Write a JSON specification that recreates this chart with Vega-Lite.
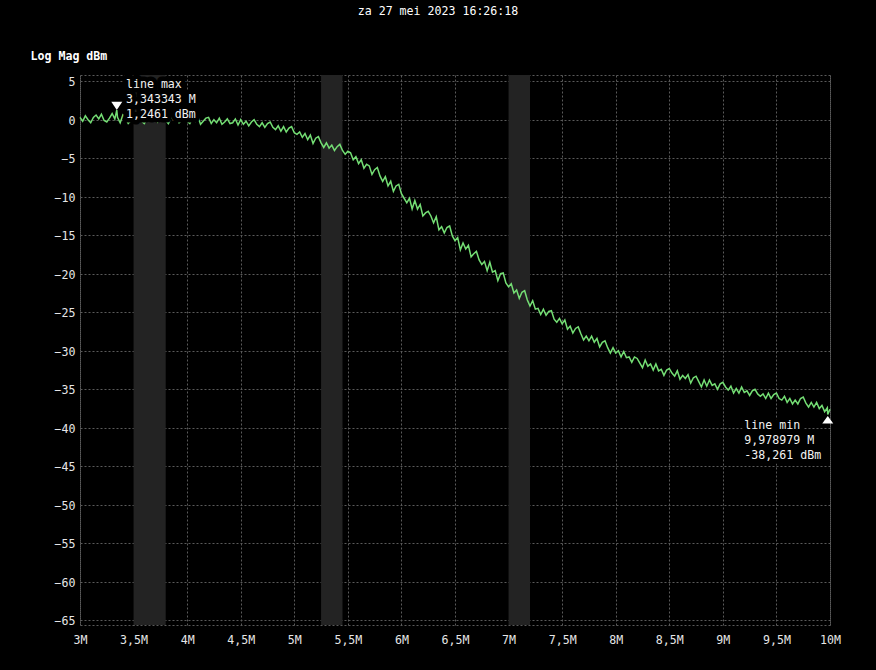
{
  "$schema": "https://vega.github.io/schema/vega-lite/v6.json",
  "width": 750,
  "height": 550,
  "autosize": "none",
  "padding": {"left": 80, "top": 75, "right": 46, "bottom": 45},
  "background": "#000000",
  "title": {
    "text": "za 27 mei 2023 16:26:18",
    "anchor": "middle",
    "frame": "group",
    "offset": 33,
    "dx": -17,
    "color": "#ffffff",
    "font": "DejaVu Sans Mono",
    "fontSize": 11.6,
    "fontWeight": "normal"
  },
  "config": {
    "view": {"stroke": "#5a5a5a", "strokeDash": [2, 2], "strokeWidth": 1},
    "axis": {
      "domain": false,
      "ticks": false,
      "gridColor": "#5a5a5a",
      "gridDash": [2, 2],
      "gridWidth": 1,
      "labelColor": "#e6e6e6",
      "labelFont": "DejaVu Sans Mono",
      "labelFontSize": 11.6,
      "titleColor": "#ffffff",
      "titleFont": "DejaVu Sans Mono",
      "titleFontSize": 11.6
    }
  },
  "datasets": {
    "trace": [
      {"f": 3.000, "m": 0.3}, {"f": 3.025, "m": -0.2}, {"f": 3.050, "m": 0.5}, {"f": 3.075, "m": 0.0},
      {"f": 3.100, "m": -0.4}, {"f": 3.125, "m": 0.3}, {"f": 3.150, "m": 0.6}, {"f": 3.175, "m": 0.1},
      {"f": 3.200, "m": 0.7}, {"f": 3.225, "m": -0.1}, {"f": 3.250, "m": -0.3}, {"f": 3.275, "m": 0.2},
      {"f": 3.300, "m": 0.8}, {"f": 3.325, "m": 0.1}, {"f": 3.343343, "m": 1.2461}, {"f": 3.350, "m": 0.3},
      {"f": 3.375, "m": -0.4}, {"f": 3.400, "m": 0.6}, {"f": 3.425, "m": 0.2}, {"f": 3.450, "m": -0.5},
      {"f": 3.475, "m": -0.1}, {"f": 3.500, "m": 0.5}, {"f": 3.525, "m": 0.0}, {"f": 3.550, "m": 0.6},
      {"f": 3.575, "m": -0.2}, {"f": 3.600, "m": -0.5}, {"f": 3.625, "m": 0.1}, {"f": 3.650, "m": 0.4},
      {"f": 3.675, "m": -0.1}, {"f": 3.700, "m": 0.5}, {"f": 3.725, "m": -0.3}, {"f": 3.750, "m": 0.2},
      {"f": 3.775, "m": 0.5}, {"f": 3.800, "m": -0.1}, {"f": 3.825, "m": -0.5}, {"f": 3.850, "m": 0.3},
      {"f": 3.875, "m": 0.0}, {"f": 3.900, "m": 0.5}, {"f": 3.925, "m": -0.4}, {"f": 3.950, "m": -0.1},
      {"f": 3.975, "m": 0.3}, {"f": 4.000, "m": -0.2}, {"f": 4.025, "m": -0.5}, {"f": 4.050, "m": 0.2},
      {"f": 4.075, "m": -0.2}, {"f": 4.100, "m": 0.4}, {"f": 4.125, "m": -0.6}, {"f": 4.150, "m": -0.2},
      {"f": 4.175, "m": 0.2}, {"f": 4.200, "m": 0.3}, {"f": 4.225, "m": -0.5}, {"f": 4.250, "m": 0.0},
      {"f": 4.275, "m": -0.4}, {"f": 4.300, "m": 0.2}, {"f": 4.325, "m": -0.6}, {"f": 4.350, "m": -0.3},
      {"f": 4.375, "m": 0.1}, {"f": 4.400, "m": -0.5}, {"f": 4.425, "m": -0.4}, {"f": 4.450, "m": 0.1},
      {"f": 4.475, "m": -0.7}, {"f": 4.500, "m": 0.0}, {"f": 4.525, "m": -0.6}, {"f": 4.550, "m": -0.2},
      {"f": 4.575, "m": -0.8}, {"f": 4.600, "m": -0.3}, {"f": 4.625, "m": 0.0}, {"f": 4.650, "m": -0.6},
      {"f": 4.675, "m": -0.9}, {"f": 4.700, "m": -0.4}, {"f": 4.725, "m": -1.0}, {"f": 4.750, "m": -0.5},
      {"f": 4.775, "m": -0.3}, {"f": 4.800, "m": -1.0}, {"f": 4.825, "m": -1.3}, {"f": 4.850, "m": -0.8},
      {"f": 4.875, "m": -1.5}, {"f": 4.900, "m": -0.9}, {"f": 4.925, "m": -1.6}, {"f": 4.950, "m": -1.1},
      {"f": 4.975, "m": -0.9}, {"f": 5.000, "m": -1.7}, {"f": 5.025, "m": -1.9}, {"f": 5.050, "m": -1.6},
      {"f": 5.075, "m": -2.3}, {"f": 5.100, "m": -1.8}, {"f": 5.125, "m": -2.6}, {"f": 5.150, "m": -2.0},
      {"f": 5.175, "m": -3.1}, {"f": 5.200, "m": -2.4}, {"f": 5.225, "m": -2.2}, {"f": 5.250, "m": -3.0},
      {"f": 5.275, "m": -3.6}, {"f": 5.300, "m": -3.0}, {"f": 5.325, "m": -3.7}, {"f": 5.350, "m": -3.3},
      {"f": 5.375, "m": -4.0}, {"f": 5.400, "m": -3.5}, {"f": 5.425, "m": -3.2}, {"f": 5.450, "m": -4.0},
      {"f": 5.475, "m": -4.5}, {"f": 5.500, "m": -4.1}, {"f": 5.525, "m": -4.3}, {"f": 5.550, "m": -5.2},
      {"f": 5.575, "m": -4.8}, {"f": 5.600, "m": -5.7}, {"f": 5.625, "m": -5.2}, {"f": 5.650, "m": -6.3},
      {"f": 5.675, "m": -5.8}, {"f": 5.700, "m": -6.0}, {"f": 5.725, "m": -7.1}, {"f": 5.750, "m": -6.5},
      {"f": 5.775, "m": -6.2}, {"f": 5.800, "m": -7.3}, {"f": 5.825, "m": -8.0}, {"f": 5.850, "m": -7.4},
      {"f": 5.875, "m": -8.6}, {"f": 5.900, "m": -8.0}, {"f": 5.925, "m": -9.3}, {"f": 5.950, "m": -8.6},
      {"f": 5.975, "m": -8.4}, {"f": 6.000, "m": -9.6}, {"f": 6.025, "m": -10.2}, {"f": 6.050, "m": -10.8},
      {"f": 6.075, "m": -10.2}, {"f": 6.100, "m": -11.6}, {"f": 6.125, "m": -10.5}, {"f": 6.150, "m": -11.6},
      {"f": 6.175, "m": -11.0}, {"f": 6.200, "m": -12.5}, {"f": 6.225, "m": -12.1}, {"f": 6.250, "m": -11.9},
      {"f": 6.275, "m": -12.5}, {"f": 6.300, "m": -13.4}, {"f": 6.325, "m": -12.6}, {"f": 6.350, "m": -14.3},
      {"f": 6.375, "m": -13.9}, {"f": 6.400, "m": -14.7}, {"f": 6.425, "m": -14.0}, {"f": 6.450, "m": -13.8},
      {"f": 6.475, "m": -15.1}, {"f": 6.500, "m": -15.7}, {"f": 6.525, "m": -15.3}, {"f": 6.550, "m": -16.9},
      {"f": 6.575, "m": -16.0}, {"f": 6.600, "m": -16.8}, {"f": 6.625, "m": -16.3}, {"f": 6.650, "m": -17.8},
      {"f": 6.675, "m": -17.4}, {"f": 6.700, "m": -17.1}, {"f": 6.725, "m": -18.2}, {"f": 6.750, "m": -18.8},
      {"f": 6.775, "m": -18.4}, {"f": 6.800, "m": -19.6}, {"f": 6.825, "m": -18.5}, {"f": 6.850, "m": -19.8},
      {"f": 6.875, "m": -19.6}, {"f": 6.900, "m": -20.9}, {"f": 6.925, "m": -20.0}, {"f": 6.950, "m": -19.9},
      {"f": 6.975, "m": -21.2}, {"f": 7.000, "m": -21.7}, {"f": 7.025, "m": -21.3}, {"f": 7.050, "m": -22.5},
      {"f": 7.075, "m": -22.1}, {"f": 7.100, "m": -23.2}, {"f": 7.125, "m": -22.4}, {"f": 7.150, "m": -22.2},
      {"f": 7.175, "m": -23.4}, {"f": 7.200, "m": -24.2}, {"f": 7.225, "m": -23.5}, {"f": 7.250, "m": -24.6},
      {"f": 7.275, "m": -24.5}, {"f": 7.300, "m": -25.3}, {"f": 7.325, "m": -24.6}, {"f": 7.350, "m": -25.4},
      {"f": 7.375, "m": -24.9}, {"f": 7.400, "m": -24.8}, {"f": 7.425, "m": -25.9}, {"f": 7.450, "m": -26.3},
      {"f": 7.475, "m": -25.8}, {"f": 7.500, "m": -26.5}, {"f": 7.525, "m": -26.0}, {"f": 7.550, "m": -27.2},
      {"f": 7.575, "m": -26.8}, {"f": 7.600, "m": -27.7}, {"f": 7.625, "m": -27.1}, {"f": 7.650, "m": -26.9},
      {"f": 7.675, "m": -27.8}, {"f": 7.700, "m": -28.6}, {"f": 7.725, "m": -28.1}, {"f": 7.750, "m": -28.7},
      {"f": 7.775, "m": -28.1}, {"f": 7.800, "m": -28.9}, {"f": 7.825, "m": -28.4}, {"f": 7.850, "m": -29.5},
      {"f": 7.875, "m": -28.9}, {"f": 7.900, "m": -28.7}, {"f": 7.925, "m": -29.6}, {"f": 7.950, "m": -30.3},
      {"f": 7.975, "m": -29.6}, {"f": 8.000, "m": -30.3}, {"f": 8.025, "m": -30.0}, {"f": 8.050, "m": -30.8},
      {"f": 8.075, "m": -30.1}, {"f": 8.100, "m": -30.9}, {"f": 8.125, "m": -30.8}, {"f": 8.150, "m": -31.5},
      {"f": 8.175, "m": -30.8}, {"f": 8.200, "m": -31.0}, {"f": 8.225, "m": -31.6}, {"f": 8.250, "m": -32.2},
      {"f": 8.275, "m": -31.2}, {"f": 8.300, "m": -32.0}, {"f": 8.325, "m": -31.7}, {"f": 8.350, "m": -32.5},
      {"f": 8.375, "m": -31.7}, {"f": 8.400, "m": -32.6}, {"f": 8.425, "m": -32.4}, {"f": 8.450, "m": -33.2},
      {"f": 8.475, "m": -32.5}, {"f": 8.500, "m": -32.3}, {"f": 8.525, "m": -32.9}, {"f": 8.550, "m": -33.3},
      {"f": 8.575, "m": -32.6}, {"f": 8.600, "m": -33.7}, {"f": 8.625, "m": -33.2}, {"f": 8.650, "m": -33.6},
      {"f": 8.675, "m": -33.1}, {"f": 8.700, "m": -34.2}, {"f": 8.725, "m": -33.5}, {"f": 8.750, "m": -33.3},
      {"f": 8.775, "m": -34.0}, {"f": 8.800, "m": -34.7}, {"f": 8.825, "m": -33.8}, {"f": 8.850, "m": -34.6},
      {"f": 8.875, "m": -33.8}, {"f": 8.900, "m": -34.5}, {"f": 8.925, "m": -34.3}, {"f": 8.950, "m": -35.0},
      {"f": 8.975, "m": -34.3}, {"f": 9.000, "m": -34.1}, {"f": 9.025, "m": -34.7}, {"f": 9.050, "m": -35.1},
      {"f": 9.075, "m": -34.6}, {"f": 9.100, "m": -35.5}, {"f": 9.125, "m": -34.9}, {"f": 9.150, "m": -35.5},
      {"f": 9.175, "m": -34.7}, {"f": 9.200, "m": -35.4}, {"f": 9.225, "m": -35.2}, {"f": 9.250, "m": -35.8},
      {"f": 9.275, "m": -35.2}, {"f": 9.300, "m": -35.0}, {"f": 9.325, "m": -35.6}, {"f": 9.350, "m": -35.9},
      {"f": 9.375, "m": -35.6}, {"f": 9.400, "m": -36.2}, {"f": 9.425, "m": -35.5}, {"f": 9.450, "m": -36.2},
      {"f": 9.475, "m": -35.7}, {"f": 9.500, "m": -35.5}, {"f": 9.525, "m": -36.2}, {"f": 9.550, "m": -36.4},
      {"f": 9.575, "m": -35.9}, {"f": 9.600, "m": -36.7}, {"f": 9.625, "m": -36.2}, {"f": 9.650, "m": -36.9},
      {"f": 9.675, "m": -36.4}, {"f": 9.700, "m": -36.9}, {"f": 9.725, "m": -36.2}, {"f": 9.750, "m": -36.0},
      {"f": 9.775, "m": -36.8}, {"f": 9.800, "m": -37.3}, {"f": 9.825, "m": -36.7}, {"f": 9.850, "m": -37.3},
      {"f": 9.875, "m": -36.7}, {"f": 9.900, "m": -37.5}, {"f": 9.925, "m": -37.1}, {"f": 9.950, "m": -37.9},
      {"f": 9.975, "m": -37.4}, {"f": 9.978979, "m": -38.261}, {"f": 10.000, "m": -37.6}
    ],
    "bands": [
      {"start": 3.5, "end": 3.8},
      {"start": 5.25, "end": 5.45},
      {"start": 7.0, "end": 7.2}
    ],
    "markers": [
      {"f": 3.343343, "m": 1.2461, "kind": "max", "label": "line max\n3,343343 M\n1,2461 dBm"},
      {"f": 9.978979, "m": -38.261, "kind": "min", "label": "line min\n9,978979 M\n-38,261 dBm"}
    ]
  },
  "encoding": {
    "x": {
      "field": "f",
      "type": "quantitative",
      "scale": {"domain": [3, 10], "nice": false, "zero": false},
      "axis": {
        "title": null,
        "values": [3, 3.5, 4, 4.5, 5, 5.5, 6, 6.5, 7, 7.5, 8, 8.5, 9, 9.5, 10],
        "labelExpr": "replace(format(datum.value, '.1~f'), '.', ',') + 'M'",
        "labelFlush": false,
        "labelPadding": 9
      }
    },
    "y": {
      "field": "m",
      "type": "quantitative",
      "scale": {"domain": [-65.6, 5.8], "nice": false, "zero": false},
      "axis": {
        "title": "Log Mag dBm",
        "titleAngle": 0,
        "titleAlign": "left",
        "titleBaseline": "middle",
        "titleX": -50,
        "titleY": -18.3,
        "titleFontWeight": "bold",
        "values": [5, 0, -5, -10, -15, -20, -25, -30, -35, -40, -45, -50, -55, -60, -65],
        "labelFlush": false,
        "labelOffset": 1.5,
        "labelPadding": 5
      }
    }
  },
  "layer": [
    {
      "data": {"name": "bands"},
      "mark": {"type": "rect", "color": "#232323"},
      "encoding": {
        "x": {"field": "start", "type": "quantitative"},
        "x2": {"field": "end"},
        "y": null
      }
    },
    {
      "data": {"name": "trace"},
      "mark": {"type": "line", "color": "#74de74", "strokeWidth": 1.5, "interpolate": "linear"}
    },
    {
      "data": {"name": "markers"},
      "transform": [{"filter": "datum.kind === 'max'"}],
      "mark": {
        "type": "text", "align": "left", "baseline": "top", "lineBreak": "\n", "lineHeight": 15,
        "dx": 9.2, "dy": -30.7, "font": "DejaVu Sans Mono", "fontSize": 11.6,
        "color": "#000000", "stroke": "#000000", "strokeWidth": 9, "strokeJoin": "round"
      },
      "encoding": {"text": {"field": "label"}}
    },
    {
      "data": {"name": "markers"},
      "transform": [{"filter": "datum.kind === 'max'"}],
      "mark": {
        "type": "text", "align": "left", "baseline": "top", "lineBreak": "\n", "lineHeight": 15,
        "dx": 9.2, "dy": -30.7, "font": "DejaVu Sans Mono", "fontSize": 11.6, "color": "#f2f2f2"
      },
      "encoding": {"text": {"field": "label"}}
    },
    {
      "data": {"name": "markers"},
      "transform": [{"filter": "datum.kind === 'min'"}],
      "mark": {
        "type": "text", "align": "left", "baseline": "top", "lineBreak": "\n", "lineHeight": 15,
        "dx": -83.4, "dy": 6, "font": "DejaVu Sans Mono", "fontSize": 11.6,
        "color": "#000000", "stroke": "#000000", "strokeWidth": 9, "strokeJoin": "round"
      },
      "encoding": {"text": {"field": "label"}}
    },
    {
      "data": {"name": "markers"},
      "transform": [{"filter": "datum.kind === 'min'"}],
      "mark": {
        "type": "text", "align": "left", "baseline": "top", "lineBreak": "\n", "lineHeight": 15,
        "dx": -83.4, "dy": 6, "font": "DejaVu Sans Mono", "fontSize": 11.6, "color": "#f2f2f2"
      },
      "encoding": {"text": {"field": "label"}}
    },
    {
      "data": {"name": "markers"},
      "transform": [{"filter": "datum.kind === 'max'"}],
      "mark": {
        "type": "point", "filled": true, "color": "#ffffff", "opacity": 1, "size": 121,
        "shape": "M-1,-1.5L1,-1.5L0,0Z"
      }
    },
    {
      "data": {"name": "markers"},
      "transform": [{"filter": "datum.kind === 'min'"}],
      "mark": {
        "type": "point", "filled": true, "color": "#ffffff", "opacity": 1, "size": 121,
        "shape": "M0,0.3L1,1.65L-1,1.65Z"
      }
    }
  ]
}
